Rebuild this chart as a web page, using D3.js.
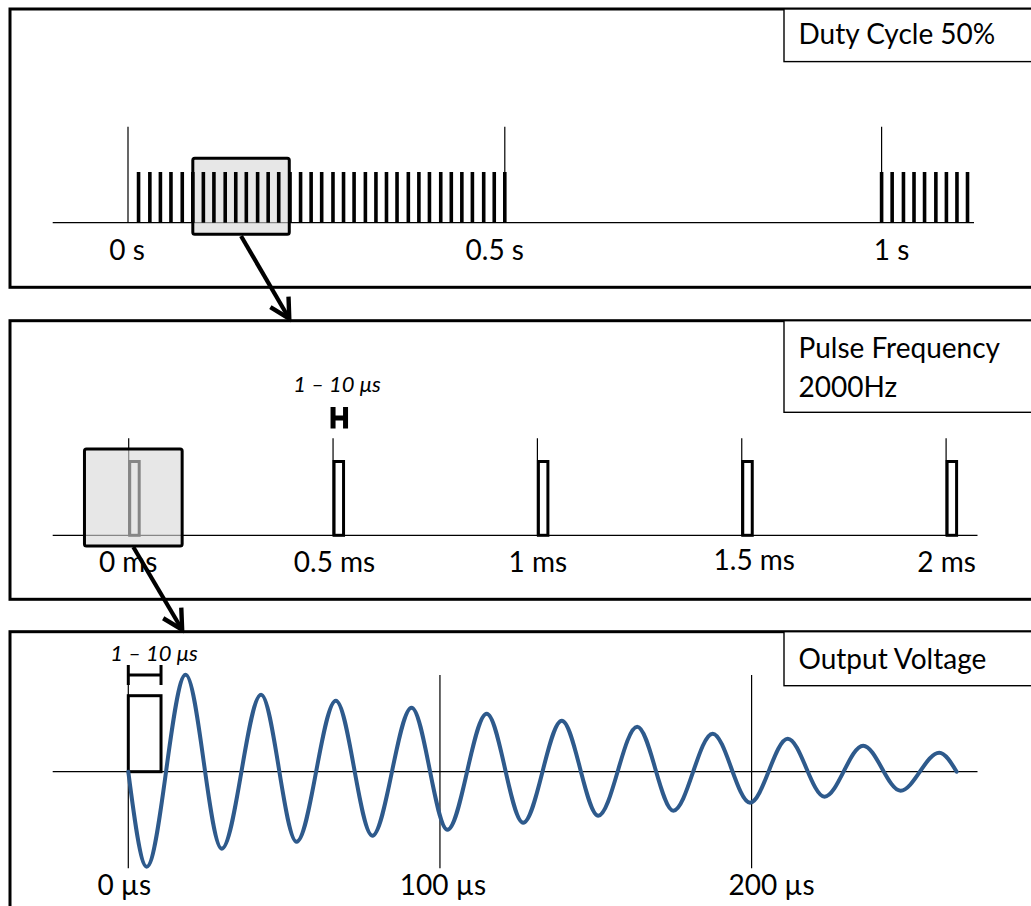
<!DOCTYPE html>
<html>
<head>
<meta charset="utf-8">
<script src="https://cdn.jsdelivr.net/npm/d3@7"></script>
<style>
  html, body { margin: 0; padding: 0; background: #fff; overflow: hidden; }
  svg { display: block; }
  text { font-family: Lato, 'Open Sans', sans-serif; fill: #000; }
</style>
</head>
<body>
<div id="chart"></div>
<script>
// top panel: burst train, times in ms
const burstTicks = [0, 500, 1000]
const burstTickLabels = ['0 s', '0.5 s', '1 s']
const burstPulses = [
  14, 29, 43, 57, 72, 86, 100, 114, 129, 143, 157, 172, 186, 200, 215, 229, 243, 257,
  272, 286, 300, 315, 329, 343, 357, 372, 386, 400, 415, 429, 443, 457, 472, 486, 500,
  1000, 1014, 1029, 1043, 1057, 1072, 1086, 1100, 1114,
]
const burstZoom = [86, 214] // ms, the window blown up below

// middle panel: single pulses, times in ms
const pulseTicks = [0, 0.5, 1, 1.5, 2]
const pulseTickLabels = ['0 ms', '0.5 ms', '1 ms', '1.5 ms', '2 ms']
const pulseTimes = [0, 0.5, 1, 1.5, 2]
const pulseZoom = [-0.107, 0.132] // ms

// bottom panel: output voltage, times in µs
const voltTicks = [0, 100, 200]
const voltTickLabels = ['0 µs', '100 µs', '200 µs']
const voltTime = [0, 5.9, 18.4, 30.0, 42.6, 54.0, 66.6, 78.3, 90.9, 102.4, 115.0, 126.7,
  139.1, 150.8, 163.3, 174.9, 187.5, 199.5, 211.6, 223.4, 235.8, 247.8, 260.2, 265.8]
const voltValue = [0, -0.95, 0.97, -0.77, 0.77, -0.70, 0.71, -0.64, 0.64, -0.58, 0.58, -0.51,
  0.51, -0.44, 0.45, -0.39, 0.38, -0.31, 0.33, -0.25, 0.26, -0.19, 0.19, 0]
const drivePulse = [0, 10.5] // µs
const drivePulseHeight = 0.76

const panelTitles = [['Duty Cycle 50%'], ['Pulse Frequency', '2000Hz'], ['Output Voltage']]
const widthNote = '1 – 10 μs'

const width = 1031
const height = 906

const svg = d3.create('svg').attr('width', width).attr('height', height)

svg.append('defs')
  .append('marker')
  .attr('id', 'chevron')
  .attr('markerUnits', 'userSpaceOnUse')
  .attr('viewBox', '-26 -15 30 30')
  .attr('markerWidth', 30)
  .attr('markerHeight', 30)
  .attr('refX', 0)
  .attr('refY', 0)
  .attr('orient', 'auto')
  .append('path')
  .attr('d', 'M-19.5,-10.5L0,0L-19.5,10.5')
  .attr('fill', 'none')
  .attr('stroke', '#000')
  .attr('stroke-width', 4.4)

// panel frames and their title boxes
const frames = [
  { top: 9, bottom: 287.3, boxBottom: 61.6, firstLine: 43.5 },
  { top: 320.7, bottom: 599.3, boxBottom: 412.3, firstLine: 358.3 },
  { top: 631.7, bottom: 940, boxBottom: 685.7, firstLine: 669.3 },
]

frames.forEach((f, i) => {
  svg.append('rect')
    .attr('x', 10).attr('y', f.top)
    .attr('width', 1060).attr('height', f.bottom - f.top)
    .attr('fill', '#fff').attr('stroke', '#000').attr('stroke-width', 3)

  svg.append('rect')
    .attr('x', 784).attr('y', f.top)
    .attr('width', 300).attr('height', f.boxBottom - f.top)
    .attr('fill', '#fff').attr('stroke', '#000').attr('stroke-width', 1.4)

  svg.append('g')
    .selectAll('text')
    .data(panelTitles[i])
    .join('text')
    .attr('x', 798.5)
    .attr('y', (d, j) => f.firstLine + j * 38.4)
    .attr('font-size', 28)
    .text(d => d)
})

const axisLeft = 52.7
const grey = { fill: '#d8d8d8', opacity: 0.62 }

// ---------- top panel ----------
const xTop = d3.scaleLinear().domain([0, 1000]).range([128, 881.6])
const yTop = d3.scaleLinear().domain([0, 1]).range([222.7, 172])

svg.append('line')
  .attr('x1', axisLeft).attr('x2', 974)
  .attr('y1', yTop(0)).attr('y2', yTop(0))
  .attr('stroke', '#000').attr('stroke-width', 1.3)

svg.append('g')
  .selectAll('line')
  .data(burstTicks)
  .join('line')
  .attr('x1', d => xTop(d)).attr('x2', d => xTop(d))
  .attr('y1', 126.7).attr('y2', yTop(0))
  .attr('stroke', '#000').attr('stroke-width', 1.2)

svg.append('rect')
  .attr('x', xTop(burstZoom[0])).attr('y', 158.3)
  .attr('width', xTop(burstZoom[1]) - xTop(burstZoom[0])).attr('height', 76)
  .attr('rx', 2)
  .attr('fill', grey.fill).attr('fill-opacity', grey.opacity)
  .attr('stroke', '#000').attr('stroke-width', 3)

svg.append('g')
  .selectAll('line')
  .data(burstPulses)
  .join('line')
  .attr('x1', d => xTop(d)).attr('x2', d => xTop(d))
  .attr('y1', yTop(1)).attr('y2', yTop(0))
  .attr('stroke', '#000').attr('stroke-width', 3.6)

const topLabelDx = [-1, -10, 10]
svg.append('g')
  .selectAll('text')
  .data(burstTicks)
  .join('text')
  .attr('x', (d, i) => xTop(d) + topLabelDx[i])
  .attr('y', 260)
  .attr('text-anchor', 'middle')
  .attr('font-size', 28)
  .text((d, i) => burstTickLabels[i])

// ---------- middle panel ----------
const xMid = d3.scaleLinear().domain([0, 2]).range([128.2, 945.6])
const yMid = d3.scaleLinear().domain([0, 1]).range([535.3, 461.5])
const pulseW = 9.5

svg.append('line')
  .attr('x1', axisLeft).attr('x2', 977.5)
  .attr('y1', yMid(0)).attr('y2', yMid(0))
  .attr('stroke', '#000').attr('stroke-width', 1.3)

svg.append('g')
  .selectAll('line')
  .data(pulseTicks)
  .join('line')
  .attr('x1', d => xMid(d) + 0.5).attr('x2', d => xMid(d) + 0.5)
  .attr('y1', 438.3).attr('y2', yMid(0))
  .attr('stroke', '#000').attr('stroke-width', 1.2)

svg.append('g')
  .selectAll('rect')
  .data(pulseTimes)
  .join('rect')
  .attr('x', d => xMid(d) + 1.5)
  .attr('y', yMid(1))
  .attr('width', pulseW)
  .attr('height', yMid(0) - yMid(1))
  .attr('fill', '#fff').attr('stroke', '#000').attr('stroke-width', 3)

svg.append('rect')
  .attr('x', xMid(pulseZoom[0])).attr('y', 449)
  .attr('width', xMid(pulseZoom[1]) - xMid(pulseZoom[0])).attr('height', 97)
  .attr('rx', 2)
  .attr('fill', grey.fill).attr('fill-opacity', grey.opacity)
  .attr('stroke', '#000').attr('stroke-width', 3)

// width marker above the 0.5 ms pulse
const hx0 = xMid(pulseTimes[1]) + 0.5
const hx1 = hx0 + pulseW + 3
svg.append('path')
  .attr('d', `M${hx0},407V428.5M${hx1},407V428.5M${hx0},418H${hx1}`)
  .attr('fill', 'none').attr('stroke', '#000').attr('stroke-width', 5)

svg.append('text')
  .attr('x', 337).attr('y', 391.7)
  .attr('text-anchor', 'middle')
  .attr('font-size', 22).attr('font-style', 'italic')
  .text(widthNote)

const midLabelDx = [0, 2, 1, 13, 1]
const midLabelDy = [0, 0, 0, -1.7, 0]
svg.append('g')
  .selectAll('text')
  .data(pulseTicks)
  .join('text')
  .attr('x', (d, i) => xMid(d) + midLabelDx[i])
  .attr('y', (d, i) => 571.7 + midLabelDy[i])
  .attr('text-anchor', 'middle')
  .attr('font-size', 28)
  .text((d, i) => pulseTickLabels[i])

// ---------- bottom panel ----------
const xBot = d3.scaleLinear().domain([0, 200]).range([128.3, 751.6])
const yBot = d3.scaleLinear().domain([-1, 1]).range([871.7, 671.7])

svg.append('line')
  .attr('x1', axisLeft).attr('x2', 977.5)
  .attr('y1', yBot(0)).attr('y2', yBot(0))
  .attr('stroke', '#000').attr('stroke-width', 1.3)

svg.append('g')
  .selectAll('line')
  .data(voltTicks)
  .join('line')
  .attr('x1', d => xBot(d)).attr('x2', d => xBot(d))
  .attr('y1', 675).attr('y2', 868.3)
  .attr('stroke', '#000').attr('stroke-width', 1.2)

svg.append('rect')
  .attr('x', xBot(drivePulse[0])).attr('y', yBot(drivePulseHeight))
  .attr('width', xBot(drivePulse[1]) - xBot(drivePulse[0]))
  .attr('height', yBot(0) - yBot(drivePulseHeight))
  .attr('fill', 'none').attr('stroke', '#000').attr('stroke-width', 3)

const bx0 = xBot(drivePulse[0])
const bx1 = xBot(drivePulse[1])
svg.append('path')
  .attr('d', `M${bx0},665V685M${bx1},665V685M${bx0},675H${bx1}`)
  .attr('fill', 'none').attr('stroke', '#000').attr('stroke-width', 3)

svg.append('text')
  .attr('x', 154).attr('y', 660.7)
  .attr('text-anchor', 'middle')
  .attr('font-size', 22).attr('font-style', 'italic')
  .text(widthNote)

const wave = d3.line()
  .x(d => xBot(d[0]))
  .y(d => yBot(d[1]))
  .curve(d3.curveMonotoneX)

svg.append('path')
  .datum(voltTime.map((t, i) => [t, voltValue[i]]))
  .attr('d', wave)
  .attr('fill', 'none')
  .attr('stroke', '#2e5a8c')
  .attr('stroke-width', 4)
  .attr('stroke-linecap', 'round')

const botLabelDx = [-4, 3, 20]
svg.append('g')
  .selectAll('text')
  .data(voltTicks)
  .join('text')
  .attr('x', (d, i) => xBot(d) + botLabelDx[i])
  .attr('y', 894.5)
  .attr('text-anchor', 'middle')
  .attr('font-size', 28)
  .text((d, i) => voltTickLabels[i])

// ---------- zoom arrows ----------
const arrows = [
  [[(xTop(burstZoom[0]) + xTop(burstZoom[1])) / 2, 236], [xTop(burstZoom[1]), frames[1].top - 2]],
  [[(xMid(pulseZoom[0]) + xMid(pulseZoom[1])) / 2, 547], [xMid(pulseZoom[1]), frames[2].top - 2]],
]
svg.append('g')
  .selectAll('line')
  .data(arrows)
  .join('line')
  .attr('x1', d => d[0][0]).attr('y1', d => d[0][1])
  .attr('x2', d => d[1][0]).attr('y2', d => d[1][1])
  .attr('stroke', '#000').attr('stroke-width', 4.2)
  .attr('marker-end', 'url(#chevron)')

document.getElementById('chart').appendChild(svg.node())
</script>
</body>
</html>
